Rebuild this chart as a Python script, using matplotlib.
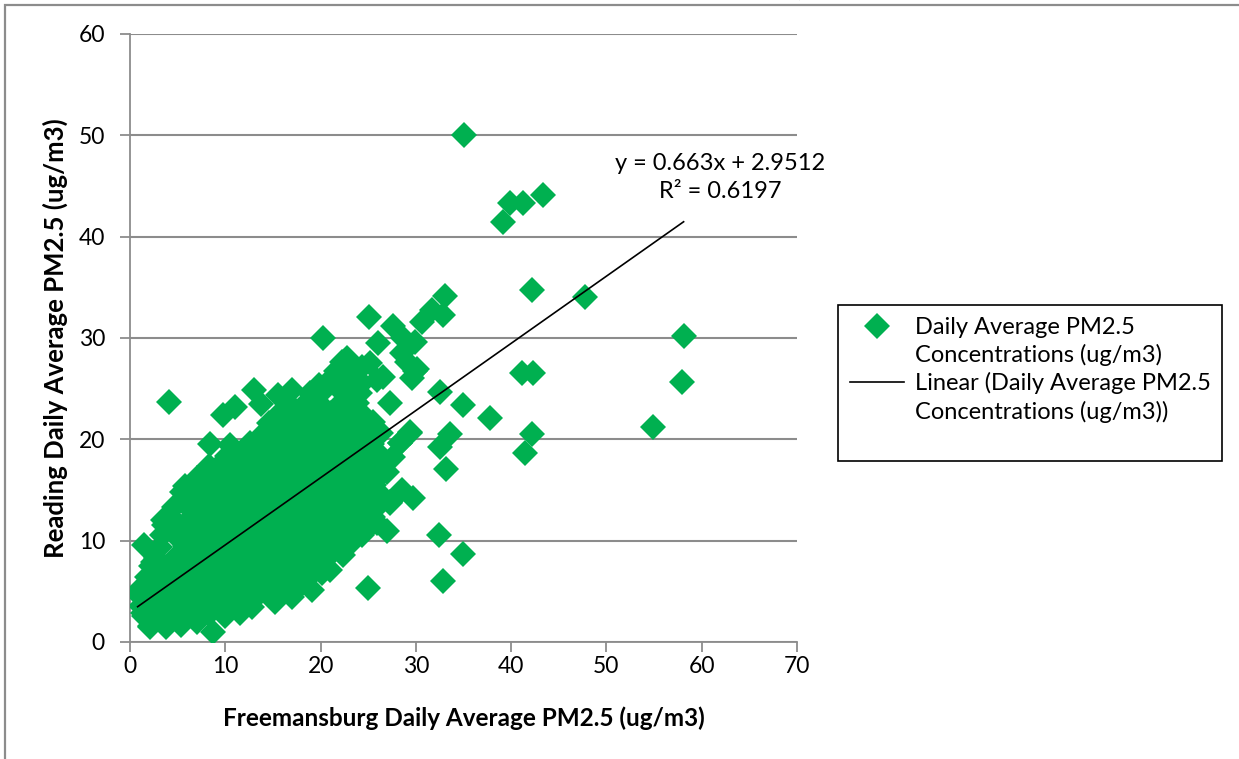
import matplotlib
matplotlib.use('Agg')
import matplotlib.pyplot as plt
from matplotlib.patches import Rectangle
from matplotlib.lines import Line2D
import numpy as np

plt.rcParams['font.family'] = ['Lato', 'DejaVu Sans']
plt.rcParams['mathtext.fontset'] = 'custom'
plt.rcParams['mathtext.rm'] = 'Liberation Serif:bold'

# ---- data (Freemansburg x, Reading y), ug/m3 ----
bottom_pts = [(2.1, 1.6), (3.8, 1.5), (5.3, 1.7), (7.0, 2.0), (8.7, 1.0),
              (1.5, 2.6), (3.0, 2.4), (4.8, 2.7), (6.6, 2.5), (8.3, 2.8), (10.0, 2.6), (11.5, 2.9),
              (1.2, 3.6), (2.2, 3.3), (4.0, 3.5), (5.8, 3.7), (7.6, 3.4), (9.3, 3.6), (11.0, 3.8),
              (12.8, 3.5), (15.2, 3.9),
              (0.9, 4.6), (3.1, 4.4), (4.9, 4.6), (6.7, 4.5), (8.5, 4.3), (10.2, 4.7), (12.0, 4.5),
              (13.6, 4.8), (15.5, 4.6), (17.0, 4.4),
              (1.3, 5.4), (2.1, 5.6), (4.0, 5.5), (5.8, 5.3), (7.6, 5.6), (9.3, 5.5), (11.1, 5.4),
              (12.8, 5.7), (14.6, 5.5), (16.4, 5.6), (18.2, 5.8), (19.1, 5.1), (25.0, 5.3)]

low_pts = [(1.8, 6.4), (3.1, 6.6), (4.9, 6.5), (6.7, 6.3), (8.5, 6.6), (10.2, 6.5), (12.0, 6.4),
           (13.7, 6.7), (15.5, 6.5), (17.3, 6.3), (19.0, 6.6), (20.2, 6.8),
           (2.2, 7.5), (4.0, 7.4), (5.8, 7.6), (7.6, 7.5), (9.3, 7.3), (11.1, 7.6), (12.9, 7.5),
           (14.6, 7.7), (16.4, 7.4), (18.2, 7.6), (19.9, 7.5), (21.0, 7.1),
           (2.7, 8.3), (4.9, 8.5), (6.7, 8.6), (8.5, 8.4), (10.2, 8.5), (12.0, 8.7), (13.8, 8.5),
           (15.5, 8.3), (17.3, 8.6), (19.1, 8.5), (20.8, 8.4), (22.4, 8.6),
           (1.5, 9.6), (3.2, 9.4), (5.8, 9.5), (7.6, 9.6), (9.4, 9.3), (11.1, 9.5), (12.9, 9.7),
           (14.7, 9.4), (16.4, 9.5), (18.2, 9.6), (20.0, 9.8), (21.7, 9.4), (23.1, 9.7),
           (3.4, 10.6), (4.9, 10.4), (6.7, 10.5), (8.5, 10.7), (10.3, 10.4), (12.0, 10.6),
           (13.8, 10.5), (15.6, 10.3), (17.3, 10.6), (19.1, 10.5), (20.9, 10.7), (22.6, 10.4),
           (23.1, 10.4), (24.4, 10.6)]

mid_pts = [(3.6, 11.5), (5.8, 11.6), (7.6, 11.4), (9.4, 11.5), (11.2, 11.7), (12.9, 11.4),
           (14.7, 11.5), (16.5, 11.6), (18.2, 11.3), (20.0, 11.5), (21.8, 11.6), (23.5, 11.4),
           (25.3, 11.5), (25.9, 11.7), (27.0, 11.0),
           (3.5, 12.0), (4.2, 12.4), (6.7, 12.5), (8.5, 12.6), (10.3, 12.3), (12.1, 12.5),
           (13.8, 12.7), (15.6, 12.4), (17.4, 12.5), (19.1, 12.6), (20.9, 12.4), (22.7, 12.5),
           (24.4, 12.7), (25.5, 12.3),
           (4.6, 13.3), (5.8, 13.6), (7.6, 13.5), (9.4, 13.4), (11.2, 13.6), (13.0, 13.5),
           (14.7, 13.3), (16.5, 13.6), (18.3, 13.5), (20.0, 13.4), (21.8, 13.6), (23.6, 13.5),
           (25.3, 13.4), (25.9, 13.3), (27.3, 13.7),
           (5.5, 14.8), (6.8, 14.4), (8.5, 14.5), (10.3, 14.6), (12.1, 14.4), (13.9, 14.5),
           (15.6, 14.7), (17.4, 14.5), (19.2, 14.3), (20.9, 14.6), (22.7, 14.5), (24.5, 14.4),
           (26.2, 14.6), (28.5, 15.0), (29.7, 14.2),
           (5.8, 15.4), (7.6, 15.6), (9.4, 15.5), (11.2, 15.3), (13.0, 15.6), (14.8, 15.5),
           (16.5, 15.4), (18.3, 15.6), (20.1, 15.5), (21.8, 15.3), (23.6, 15.6), (24.1, 15.7),
           (25.6, 15.5)]

high_pts = [(7.0, 16.2), (8.6, 16.6), (10.3, 16.5), (12.1, 16.4), (13.9, 16.6), (15.7, 16.5),
            (17.4, 16.3), (19.2, 16.6), (21.0, 16.5), (22.7, 16.4), (24.5, 16.6), (26.0, 16.3),
            (27.0, 16.8),
            (8.3, 17.4), (9.6, 17.6), (11.3, 17.5), (13.0, 17.3), (14.8, 17.6), (16.6, 17.5),
            (18.3, 17.4), (20.1, 17.6), (21.9, 17.5), (23.6, 17.3), (25.2, 17.7), (26.2, 17.3),
            (10.2, 18.4), (12.2, 18.6), (13.9, 18.5), (15.7, 18.3), (17.5, 18.6), (19.2, 18.5),
            (21.0, 18.4), (22.8, 18.6), (24.5, 18.5), (26.3, 18.4), (27.6, 18.3),
            (8.4, 19.5), (10.5, 19.4), (12.6, 19.6), (14.8, 19.5), (16.6, 19.3), (18.4, 19.6),
            (20.1, 19.5), (21.9, 19.4), (23.7, 19.6), (25.4, 19.5), (28.3, 19.6),
            (13.8, 20.3), (15.7, 20.6), (17.5, 20.5), (19.3, 20.4), (21.0, 20.6), (22.8, 20.5),
            (24.6, 20.3), (26.3, 20.6), (29.4, 20.6),
            (14.6, 21.6), (16.6, 21.4), (18.4, 21.5), (20.2, 21.6), (21.9, 21.3), (23.7, 21.5),
            (25.5, 21.7),
            (9.8, 22.4), (15.9, 22.8), (17.5, 22.5), (19.3, 22.4), (21.1, 22.6), (22.9, 22.5),
            (24.6, 22.3),
            (11.0, 23.2), (13.8, 23.5), (16.8, 23.4), (18.5, 23.6), (19.4, 23.9), (20.2, 23.3),
            (22.0, 23.5), (23.8, 23.6), (27.3, 23.6),
            (13.0, 24.9), (15.5, 24.4), (17.0, 24.9), (18.9, 24.6), (20.7, 25.2), (22.5, 24.5),
            (23.1, 25.2), (24.1, 24.6),
            (19.8, 25.4), (21.0, 25.9), (22.0, 25.2), (24.4, 25.6), (25.9, 25.9), (26.5, 26.2),
            (21.6, 26.7), (23.0, 26.5), (22.2, 27.6), (22.8, 28.0), (24.4, 27.1), (25.2, 27.5)]

upper_pts = [(20.3, 30.0), (25.1, 32.1), (27.6, 31.2), (30.6, 31.6), (31.7, 32.8), (32.8, 32.3),
             (33.1, 34.1), (26.0, 29.5), (28.6, 30.0), (29.9, 29.6), (28.5, 28.5), (29.1, 27.6),
             (29.9, 26.7), (29.6, 26.1), (30.1, 26.9), (32.5, 24.7), (34.9, 23.4), (37.8, 22.1)]

side_pts = [(29.4, 20.7), (28.3, 19.6), (33.6, 20.5), (32.5, 19.2), (33.2, 17.1),
            (27.3, 13.8), (32.4, 10.6), (35.0, 8.7), (32.9, 6.0), (0.8, 4.8), (2.4, 7.9),
            (1.4, 2.9), (2.1, 1.5), (4.1, 23.7)]

far_pts = [(35.1, 50.0), (39.1, 41.4), (39.9, 43.3), (41.2, 43.3), (43.3, 44.1), (42.2, 34.7),
           (47.7, 34.0), (58.1, 30.2), (57.9, 25.7), (54.9, 21.2), (41.1, 26.5), (42.3, 26.5),
           (42.2, 20.5), (41.5, 18.7)]

slope = 0.663
intercept = 2.9512
r_squared = 0.6197

legend_lines = ['Daily Average PM2.5', 'Concentrations (ug/m3)',
                'Linear (Daily Average PM2.5', 'Concentrations (ug/m3))', '']

all_pts = np.array(bottom_pts + low_pts + mid_pts + high_pts + upper_pts + side_pts + far_pts)
freemansburg = all_pts[:, 0]
reading = all_pts[:, 1]

green = '#00B050'
gray = '#8C8C8C'

fig = plt.figure(figsize=(12.39, 7.59), dpi=100)
ax = fig.add_axes([130/1239, 1 - 642/759, 667/1239, 608/759])

scatter_line, = ax.plot(freemansburg, reading, linestyle='none', marker='D', markersize=13.5,
                        color=green, markeredgewidth=0, zorder=3)

fit_x = np.array([freemansburg.min(), freemansburg.max()])
fit_line, = ax.plot(fit_x, slope*fit_x + intercept, color='black', linewidth=1.2, zorder=4)

ax.text(61.9, 45.8, 'y = {}x + {}\nR² = {}'.format(slope, intercept, r_squared),
        ha='center', va='center', fontsize=17, linespacing=1.4)

ax.set_xlim(0, 70)
ax.set_ylim(0, 60)
ax.set_xticks(np.arange(0, 71, 10))
ax.set_yticks(np.arange(0, 61, 10))
ax.grid(True, axis='y', color=gray, linewidth=1.5)
ax.set_axisbelow(True)
for s in ['top', 'right']:
    ax.spines[s].set_visible(False)
for s in ['left', 'bottom']:
    ax.spines[s].set_color(gray)
    ax.spines[s].set_linewidth(1.3)
ax.tick_params(axis='both', direction='out', length=7, width=1.3, color=gray, labelsize=16.5)
ax.tick_params(axis='y', pad=11)
ax.tick_params(axis='x', pad=3)

ax.set_xlabel('Freemansburg Daily Average PM2.5 (ug/m3)', fontsize=17.5, fontweight='bold')
ax.set_ylabel('Reading Daily Average PM2.5 (ug/m3)', fontsize=18.5, fontweight='bold')
ax.xaxis.set_label_coords(0.5, -0.106)
ax.yaxis.set_label_coords(-0.093, 0.5)

# legend: handle sits on the first line of each two-line label (as in Excel)
blank = Line2D([], [], linestyle='none')
handles = [scatter_line, blank, fit_line, blank, blank]
leg = ax.legend(handles, legend_lines, loc='upper left', bbox_to_anchor=(838/1239, 1 - 305/759),
                bbox_transform=fig.transFigure, borderaxespad=0, fontsize=17,
                fancybox=False, framealpha=1, edgecolor='black', borderpad=0.5,
                handlelength=2.3, handletextpad=0.45, labelspacing=0.26)
leg.get_frame().set_linewidth(1.2)

# outer chart frame
fig.patches.append(Rectangle((5/1239, -0.2), 1.3, 1.2 - 5/759, transform=fig.transFigure,
                             fill=False, edgecolor=gray, linewidth=1.6))

# caption above the frame, mostly cut off
fig.text(277/1239, 1 + 7/759, 'Daily Average PM$_{2.5}$ Concentrations)', fontsize=24,
         fontweight='bold', family='Liberation Serif', ha='left', va='baseline')

fig.savefig('out.png', dpi=100)
